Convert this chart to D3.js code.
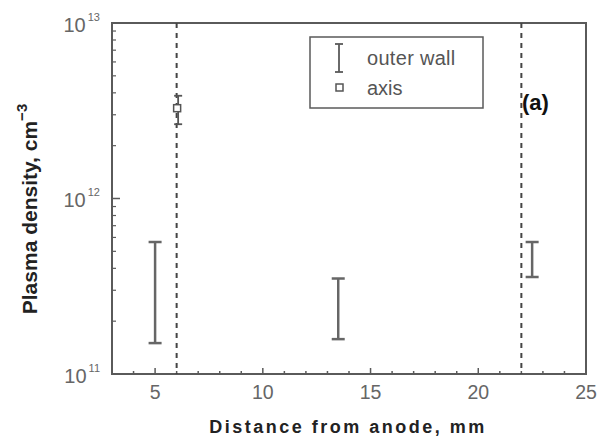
<!DOCTYPE html>
<html><head><meta charset="utf-8">
<script src="https://cdn.jsdelivr.net/npm/d3@7"></script>
<style>body{margin:0;background:#fff}svg{display:block}</style>
</head><body>
<script>
// Data
const wallX = [5, 13.5, 22.5];
const wallLow = [1.5e11, 1.58e11, 3.57e11];
const wallHigh = [5.65e11, 3.5e11, 5.65e11];
const axisX = [6];
const axisY = [3.27e12];
const axisLow = [2.65e12];
const axisHigh = [3.85e12];
const guideX = [6, 22];
const xTicks = [5, 10, 15, 20, 25];
const yTicks = [11, 12, 13];

const W = 600, H = 444;
const m = {l: 112, r: 14, t: 23, b: 70};
const FONT = "Arial, Liberation Sans, sans-serif";
const svg = d3.select("body").append("svg").attr("width", W).attr("height", H);
const x = d3.scaleLinear().domain([3, 25]).range([m.l, W - m.r]);
const y = d3.scaleLog().domain([1e11, 1e13]).range([H - m.b, m.t]);
const gray = "#5a5a5a", barc = "#666";

// frame
svg.append("rect").attr("x", x(3)).attr("y", y(1e13)).attr("width", x(25) - x(3)).attr("height", y(1e11) - y(1e13))
  .attr("fill", "none").attr("stroke", gray).attr("stroke-width", 2);

// x ticks (inward)
const g = svg.append("g");
d3.range(4, 25).forEach(v => {
  const major = v % 5 === 0;
  g.append("line").attr("x1", x(v)).attr("x2", x(v)).attr("y1", y(1e11)).attr("y2", y(1e11) - (major ? 6 : 3))
    .attr("stroke", gray).attr("stroke-width", 1.5);
});
xTicks.forEach(v => {
  svg.append("text").attr("x", x(v)).attr("y", 398.5).attr("text-anchor", "middle")
    .attr("font-family", FONT).attr("font-size", 19.5).attr("fill", "#666").text(v);
});
// y ticks
[1e11, 1e12].forEach(d => {
  for (let k = 2; k <= 9; k++) {
    g.append("line").attr("x1", x(3)).attr("x2", x(3) + 4).attr("y1", y(d * k)).attr("y2", y(d * k))
      .attr("stroke", gray).attr("stroke-width", 1.2);
  }
});
yTicks.forEach(e => {
  g.append("line").attr("x1", x(3)).attr("x2", x(3) + 8).attr("y1", y(Math.pow(10, e))).attr("y2", y(Math.pow(10, e)))
    .attr("stroke", gray).attr("stroke-width", 1.5);
  const t = svg.append("text").attr("x", 100).attr("y", y(Math.pow(10, e)) + 8.5).attr("text-anchor", "end")
    .attr("font-family", FONT).attr("font-size", 20).attr("fill", "#666");
  t.append("tspan").text("10");
  t.append("tspan").attr("dx", 2).attr("dy", -11).attr("font-size", 11).text(e);
});

// guide dashed lines
guideX.forEach(v => {
  svg.append("line").attr("x1", x(v)).attr("x2", x(v)).attr("y1", y(1e13)).attr("y2", y(1e11))
    .attr("stroke", "#444").attr("stroke-width", 2).attr("stroke-dasharray", "5,5");
});

// error bars outer wall
const cap = 6.5;
wallX.forEach((v, i) => {
  const gx = x(v);
  svg.append("line").attr("x1", gx).attr("x2", gx).attr("y1", y(wallLow[i])).attr("y2", y(wallHigh[i])).attr("stroke", barc).attr("stroke-width", 2.5);
  [wallLow[i], wallHigh[i]].forEach(vv => svg.append("line").attr("x1", gx - cap).attr("x2", gx + cap).attr("y1", y(vv)).attr("y2", y(vv)).attr("stroke", barc).attr("stroke-width", 2.5));
});
// axis point
axisX.forEach((v, i) => {
  const gx = x(v) + 1.5;
  svg.append("line").attr("x1", gx).attr("x2", gx).attr("y1", y(axisLow[i])).attr("y2", y(axisHigh[i])).attr("stroke", "#555").attr("stroke-width", 1.8);
  [axisLow[i], axisHigh[i]].forEach(vv => svg.append("line").attr("x1", gx - 4).attr("x2", gx + 4).attr("y1", y(vv)).attr("y2", y(vv)).attr("stroke", "#555").attr("stroke-width", 1.8));
  svg.append("rect").attr("x", x(v) - 3).attr("y", y(axisY[i]) - 3.5).attr("width", 7).attr("height", 7)
    .attr("fill", "#fff").attr("stroke", "#555").attr("stroke-width", 1.5);
});

// legend
svg.append("rect").attr("x", 310).attr("y", 37).attr("width", 173).attr("height", 71).attr("fill", "#fff").attr("stroke", gray).attr("stroke-width", 1.5);
svg.append("line").attr("x1", 339).attr("x2", 339).attr("y1", 44).attr("y2", 72).attr("stroke", gray).attr("stroke-width", 1.8);
[44, 72].forEach(yy => svg.append("line").attr("x1", 335).attr("x2", 343).attr("y1", yy).attr("y2", yy).attr("stroke", gray).attr("stroke-width", 1.8));
svg.append("rect").attr("x", 336).attr("y", 84).attr("width", 7).attr("height", 7).attr("fill", "#fff").attr("stroke", "#555").attr("stroke-width", 1.5);
svg.append("text").attr("x", 367).attr("y", 65).attr("font-family", FONT).attr("font-size", 20).attr("letter-spacing", 0.3).attr("fill", "#555").text("outer wall");
svg.append("text").attr("x", 367).attr("y", 95).attr("font-family", FONT).attr("font-size", 20).attr("fill", "#555").text("axis");

// (a)
svg.append("text").attr("x", 522).attr("y", 110).attr("font-family", FONT).attr("font-size", 22).attr("font-weight", "bold").attr("fill", "#111").text("(a)");

// axis titles
svg.append("text").attr("x", 348).attr("y", 433).attr("text-anchor", "middle").attr("font-family", FONT)
  .attr("font-size", 18).attr("font-weight", "bold").attr("letter-spacing", 2.5).attr("fill", "#222").text("Distance from anode, mm");
const yt = svg.append("text").attr("transform", "translate(37,209) rotate(-90)").attr("text-anchor", "middle")
  .attr("font-family", FONT).attr("font-size", 21).attr("font-weight", "bold").attr("fill", "#222");
yt.append("tspan").text("Plasma density, cm");
yt.append("tspan").attr("dy", -10).attr("font-size", 15).text("\u22123");
</script>
</body></html>
